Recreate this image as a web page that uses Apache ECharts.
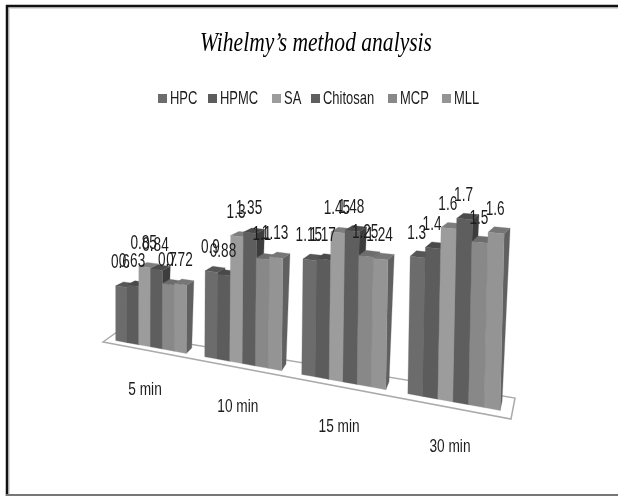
<!DOCTYPE html>
<html><head><meta charset="utf-8">
<style>html,body{margin:0;padding:0;background:#fff}#c{width:618px;height:496px;filter:blur(0.45px)}</style>
<script src="https://cdn.jsdelivr.net/npm/echarts@6/dist/echarts.min.js"></script>
</head><body><div id="c"></div>
<script>
var categories = ['5 min','10 min','15 min','30 min'];
var HPC = [0.6,0.9,1.15,1.3];
var HPMC = [0.63,0.88,1.17,1.4];
var SA = [0.85,1.3,1.45,1.6];
var Chitosan = [0.84,1.35,1.48,1.7];
var MCP = [0.7,1.1,1.25,1.5];
var MLL = [0.72,1.13,1.24,1.6];
var seriesNames = ['HPC','HPMC','SA','Chitosan','MCP','MLL'];
var seriesValues = [HPC,HPMC,SA,Chitosan,MCP,MLL];
var seriesColors = ['#6c6c6c','#5c5c5c','#9c9c9c','#5e5e5e','#888888','#949494'];

var SANS = '"Liberation Sans",sans-serif';
var c = 0.0411, cH = 0.047, D0 = 0.3, DD = 0.45, k = 5.8e-5;
function X(U){var v=U-0.1;return 115+85.3*v/(1-c*v);}
function lerp(a,b,t){return a+(b-a)*t;}
function project(U,d,h){
  var t=(X(U)-X(0))/(X(4)-X(0));
  var fx=lerp(103,511,t),fy=lerp(342,419,t),bx=lerp(117,515,t),by=lerp(332,398,t);
  var x=fx+(bx-fx)*d, y=fy+(by-fy)*d*(1-0.25*h);
  var s=92/(1-cH*(U-0.1));
  var bh=h*s;
  return [x+bh*k*(x-115)+(d-D0)/DD*h*2.5, y-bh];
}
function shade(hex,f){
  var n=parseInt(hex.slice(1),16),g=Math.round((n&255)*f);
  return 'rgb('+g+','+g+','+g+')';
}
function toModel(api,u,val){
  var p=api.coord([u,val]);
  return [p[0]/100,(200-p[1])/100];
}
function barItem(i){
  return function(params,api){
    var w=0.8/6, u=api.value(0)+0.1+i*w, val=api.value(1);
    var a=toModel(api,u,val), b=toModel(api,u+w,val);
    var U0=a[0],U1=b[0],h=a[1];
    var d0=D0,d1=D0+DD,col=seriesColors[i];
    function poly(pts,fill){return {type:'polygon',shape:{points:pts},style:{fill:fill,stroke:fill,lineWidth:0.3}};}
    return {type:'group',children:[
      poly([project(U1,d0,0),project(U1,d1,0),project(U1,d1,h),project(U1,d0,h)],shade(col,0.65)),
      poly([project(U0,d0,h),project(U1,d0,h),project(U1,d1,h),project(U0,d1,h)],shade(col,0.8)),
      poly([project(U0,d0,0),project(U1,d0,0),project(U1,d0,h),project(U0,d0,h)],col)
    ]};
  };
}
function scaledText(text,x,y,font,sx,align,fill){
  return {type:'text',x:x,y:y,scaleX:sx,style:{text:text,x:0,y:0,align:align||'center',verticalAlign:'middle',font:font,fill:fill||'#1c1c1c'}};
}
function labelItem(i){
  return function(params,api){
    var w=0.8/6, u=api.value(0)+0.1+(i+0.5)*w, val=api.value(1);
    var a=toModel(api,u,val), p=project(a[0],D0,a[1]);
    return scaledText(String(val),p[0]-1,p[1]-24,'20px '+SANS,0.68);
  };
}
function floorItem(params,api){
  var a=toModel(api,0,0)[0], b=toModel(api,4,0)[0];
  return {type:'polygon',shape:{points:[project(a,0,0),project(b,0,0),project(b,1,0),project(a,1,0)]},
    style:{fill:'#fff',stroke:'#ababab',lineWidth:1.5}};
}
function catItem(params,api){
  var a=toModel(api,api.value(0)+0.5,0), p=project(a[0],0,0);
  return scaledText(categories[api.value(0)],p[0]-1.5,p[1]+39.5,'19px '+SANS,0.72);
}
var series=[
  {type:'custom',name:'floor',renderItem:floorItem,data:[[0,0]],z:1,silent:true},
  {type:'custom',name:'cats',renderItem:catItem,data:categories.map(function(n,j){return [j,0];}),z:1,silent:true}
];
seriesNames.forEach(function(n,i){
  var data=seriesValues[i].map(function(v,j){return [j,v];});
  series.push({type:'custom',name:n,itemStyle:{color:seriesColors[i]},renderItem:barItem(i),data:data,z:2,encode:{x:0,y:1}});
});
seriesNames.forEach(function(n,i){
  var data=seriesValues[i].map(function(v,j){return [j,v];});
  series.push({type:'custom',name:n,itemStyle:{color:seriesColors[i]},renderItem:labelItem(i),data:data,z:3,encode:{x:0,y:1}});
});
var legendIconX=[158,208,272,311,388,442];
var graphics=[
  {type:'rect',shape:{x:8,y:7,width:610,height:2},style:{fill:'#dcdcdc'},z:9},
  {type:'rect',shape:{x:8,y:7,width:2,height:487},style:{fill:'#dcdcdc'},z:9},
  {type:'line',shape:{x1:7,y1:5,x2:7,y2:496},style:{stroke:'#111',lineWidth:2.5},z:10},
  {type:'line',shape:{x1:6,y1:6,x2:618,y2:6},style:{stroke:'#111',lineWidth:2.5},z:10},
  {type:'line',shape:{x1:6,y1:495,x2:618,y2:495},style:{stroke:'#777',lineWidth:2},z:10},
  scaledText('Wihelmy\u2019s method analysis',316,44,'italic 28px "Liberation Serif",serif',0.77,'center','#000')
];
seriesNames.forEach(function(n,i){
  graphics.push({type:'rect',shape:{x:legendIconX[i],y:94,width:9,height:9},style:{fill:seriesColors[i]}});
  graphics.push(scaledText(n,legendIconX[i]+12,99,'18px '+SANS,0.72,'left'));
});
var chart=echarts.init(document.getElementById('c'),null,{renderer:'canvas'});
chart.setOption({
  animation:false,
  backgroundColor:'#fff',
  grid:{left:0,top:0,width:400,height:200,containLabel:false},
  xAxis:{type:'value',min:0,max:4,show:false},
  yAxis:{type:'value',min:0,max:2,show:false},
  graphic:graphics,
  series:series
});
</script></body></html>
